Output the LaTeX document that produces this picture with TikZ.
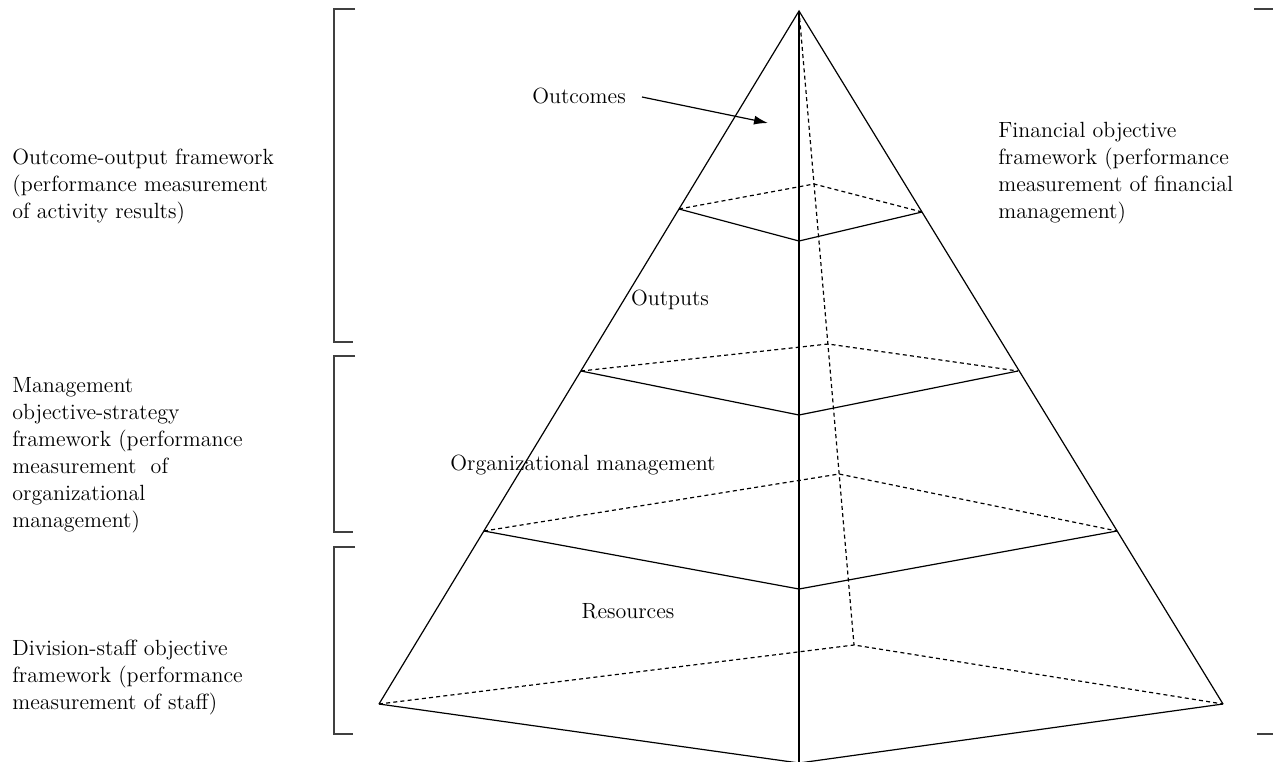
\documentclass[tikz,border=0pt]{standalone}
\usepackage{tikz}
\usetikzlibrary{arrows.meta}

\tikzset{
  edge/.style={line width=0.6pt},
  hidden/.style={line width=0.6pt, dash pattern=on 2pt off 1.6pt},
  brace/.style={line width=0.7pt, black!75},
  label/.style={inner sep=0pt, align=left, font=\fontsize{11}{13.5}\selectfont}
}

\begin{document}
\begin{tikzpicture}[x=0.5pt, y=-0.5pt]
    \useasboundingbox (0,0) rectangle (1273,761);
    \clip (0,0) rectangle (1273,761);
    % corners of the pyramid
    \coordinate (apex) at (799, 11);
    \coordinate (L) at (379, 704);
    \coordinate (R) at (1223, 704);
    \coordinate (F) at (799, 763);
    \coordinate (B) at (854, 645);
    % level corners
    \coordinate (l1) at (679, 209);  \coordinate (f1) at (799, 241);
    \coordinate (r1) at (922, 212);  \coordinate (b1) at (814, 184);
    \coordinate (l2) at (581, 371);  \coordinate (f2) at (799, 415);
    \coordinate (r2) at (1018, 371); \coordinate (b2) at (828, 344);
    \coordinate (l3) at (484, 531);  \coordinate (f3) at (799, 589);
    \coordinate (r3) at (1117, 531); \coordinate (b3) at (839, 474);

    \draw[edge] (L) -- (apex) -- (R);
    \draw[edge] (apex) -- (F);
    \draw[edge] (L) -- (F) -- (R);
    \draw[hidden] (apex) -- (B);
    \draw[hidden] (L) -- (B) -- (R);
    \draw[edge] (l1) -- (f1) -- (r1);
    \draw[hidden] (l1) -- (b1) -- (r1);
    \draw[edge] (l2) -- (f2) -- (r2);
    \draw[hidden] (l2) -- (b2) -- (r2);
    \draw[edge] (l3) -- (f3) -- (r3);
    \draw[hidden] (l3) -- (b3) -- (r3);

    % brackets
    \draw[brace] (355, 9) -- (334, 9) -- (334, 342) -- (353, 342);
    \draw[brace] (355, 356) -- (334, 356) -- (334, 532) -- (353, 532);
    \draw[brace] (355, 547) -- (334, 547) -- (334, 734) -- (353, 734);
    \draw[brace] (1254, 9) -- (1273, 9);
    \draw[brace] (1257, 734) -- (1273, 734);

    % texts
    \node[label, anchor=west] (outfw) at (12, 187)
      {Outcome-output framework\\(performance measurement\\of activity results)};
    \node[label, anchor=west] (mgmtfw) at (12, 455)
      {Management\\objective-strategy\\framework (performance\\measurement\ \ of\\organizational\\management)};
    \node[label, anchor=west] (stafffw) at (12, 678)
      {Division-staff objective\\framework (performance\\measurement of staff)};
    \node[label, anchor=west] (finfw) at (998, 173)
      {Financial objective\\framework (performance\\measurement of financial\\management)};

    \node[label] (outcomes) at (579, 96) {Outcomes};
    \node[label] (outputs) at (670, 300) {Outputs};
    \node[label] (orgmgmt) at (583, 465) {Organizational management};
    \node[label] (resources) at (628, 611) {Resources};

    \coordinate (outtail) at (642, 97);
    \coordinate (outtip) at (768, 123);
    \draw[edge, -{Latex[length=7pt, width=4.5pt]}] (outtail) -- (outtip);
\end{tikzpicture}
\end{document}
